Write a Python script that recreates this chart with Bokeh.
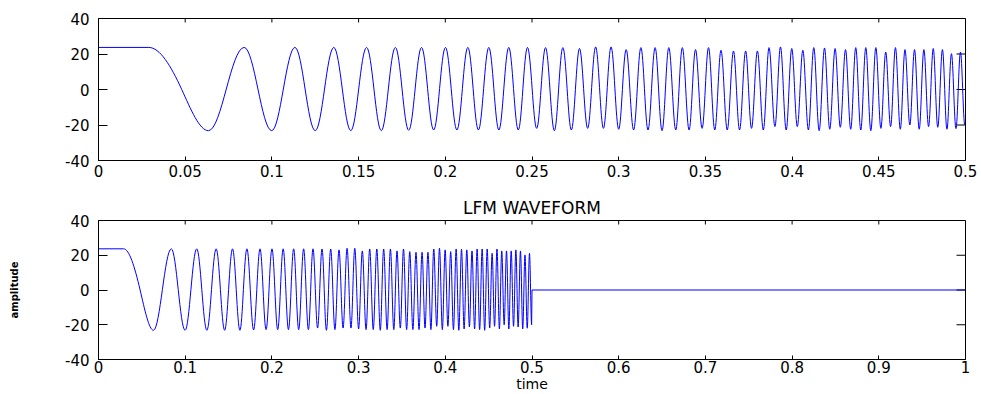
import math
from bokeh.plotting import figure
from bokeh.layouts import column
from bokeh.models import FixedTicker, ColumnDataSource, Range1d
from bokeh.embed import file_html
from bokeh.resources import INLINE

# ---------------- data ----------------
# Times (s) of the successive troughs / peaks of the LFM chirp
EXTREMA_T = [
    0.0634, 0.0840, 0.0999, 0.1133, 0.1250, 0.1357, 0.1455, 0.1546, 0.1631, 0.1712,
    0.1789, 0.1863, 0.1933, 0.2001, 0.2067, 0.2130, 0.2191, 0.2251, 0.2309, 0.2366,
    0.2421, 0.2474, 0.2527, 0.2578, 0.2629, 0.2678, 0.2727, 0.2774, 0.2821, 0.2867,
    0.2912, 0.2956, 0.3000, 0.3043, 0.3086, 0.3128, 0.3169, 0.3210, 0.3250, 0.3289,
    0.3329, 0.3367, 0.3406, 0.3443, 0.3481, 0.3518, 0.3554, 0.3590, 0.3626, 0.3662,
    0.3697, 0.3732, 0.3766, 0.3800, 0.3834, 0.3867, 0.3901, 0.3933, 0.3966, 0.3998,
    0.4030, 0.4062, 0.4094, 0.4125, 0.4156, 0.4187, 0.4217, 0.4248, 0.4278, 0.4308,
    0.4338, 0.4367, 0.4396, 0.4425, 0.4454, 0.4483, 0.4512, 0.4540, 0.4568, 0.4596,
    0.4624, 0.4651, 0.4679, 0.4706, 0.4733, 0.4760, 0.4787, 0.4814, 0.4840, 0.4867,
    0.4893, 0.4919, 0.4945, 0.4971, 0.4996,
]
# Amplitudes of those troughs / peaks
EXTREMA_V = [
    -23.2, 23.7, -23.2, 23.7, -23.2, 23.7, -23.2, 23.7, -23.2, 23.7,
    -23.0, 23.7, -22.8, 23.7, -22.8, 23.7, -22.8, 23.7, -22.8, 23.7,
    -22.8, 23.7, -21.9, 23.6, -23.2, 23.6, -22.8, 23.1, -21.9, 24.0,
    -21.9, 24.0, -22.4, 22.5, -22.8, 23.6, -22.8, 23.6, -23.2, 23.6,
    -22.8, 23.6, -22.8, 22.5, -21.9, 23.6, -22.8, 22.1, -22.8, 21.7,
    -22.8, 21.7, -21.9, 21.7, -22.8, 23.6, -20.9, 24.0, -22.8, 23.1,
    -20.9, 22.1, -22.8, 23.6, -23.2, 23.4, -22.4, 23.1, -21.3, 22.5,
    -22.4, 23.6, -22.8, 23.6, -23.2, 23.6, -21.9, 21.1, -20.9, 23.6,
    -22.4, 22.5, -20.0, 22.5, -22.4, 22.5, -20.9, 23.1, -21.3, 22.5,
    -22.4, 20.2, -22.0, 21.1, -20.0,
]
PLATEAU_LEVEL = 23.7     # initial flat level
DESCENT_START = 0.029    # end of initial plateau
FIRST_ZERO = 0.048       # first zero crossing
PULSE_END = 0.5
TIME_END = 1.0

TOP_XTICKS = [0, 0.05, 0.1, 0.15, 0.2, 0.25, 0.3, 0.35, 0.4, 0.45, 0.5]
TOP_XLABELS = ["0", "0.05", "0.1", "0.15", "0.2", "0.25", "0.3", "0.35", "0.4", "0.45", "0.5"]
BOT_XTICKS = [0, 0.1, 0.2, 0.3, 0.4, 0.5, 0.6, 0.7, 0.8, 0.9, 1.0]
BOT_XLABELS = ["0", "0.1", "0.2", "0.3", "0.4", "0.5", "0.6", "0.7", "0.8", "0.9", "1"]
YMIN, YMAX = -40, 40
YTICKS = [-40, -20, 0, 20, 40]
YLABELS = ["-40", "-20", "0", "20", "40"]
TITLE = "LFM WAVEFORM"
XLABEL = "time"
YLABEL = "amplitude"

# ---------------- styling ----------------
FONT = "DejaVu Sans"
TICK_FS = "15px"
WAVE_COLOR = "#0000ff"
HALF_WAVE_HANDLE = 0.3634
XTICK_LEN = 4
YTICK_LEN = 9


def wave_segments():
    kt = [DESCENT_START, FIRST_ZERO] + EXTREMA_T
    kv = [PLATEAU_LEVEL, 0.0] + EXTREMA_V
    half = EXTREMA_T[0] - DESCENT_START
    amp = (PLATEAU_LEVEL - EXTREMA_V[0]) / 2.0
    km = [0.0, -amp * math.pi / half] + [0.0] * len(EXTREMA_T)
    d = dict(x0=[], y0=[], x1=[], y1=[], cx0=[], cy0=[], cx1=[], cy1=[])
    for i in range(len(kt) - 1):
        t0, t1, v0, v1, m0, m1 = kt[i], kt[i + 1], kv[i], kv[i + 1], km[i], km[i + 1]
        h = t1 - t0
        f = HALF_WAVE_HANDLE if (m0 == 0 and m1 == 0) else 1.0 / 3.0
        d["x0"].append(t0); d["y0"].append(v0)
        d["x1"].append(t1); d["y1"].append(v1)
        d["cx0"].append(t0 + f * h); d["cy0"].append(v0 + m0 * f * h)
        d["cx1"].append(t1 - f * h); d["cy1"].append(v1 - m1 * f * h)
    return d


def style_axis(ax, ticks, labels, tick_len, standoff):
    ax.ticker = FixedTicker(ticks=ticks)
    ax.major_label_overrides = {t: l for t, l in zip(ticks, labels)}
    ax.major_tick_in = tick_len
    ax.major_tick_out = 0
    ax.minor_tick_line_color = None
    ax.major_tick_line_color = "black"
    ax.axis_line_color = "black"
    ax.major_label_text_font = FONT
    ax.major_label_text_font_size = TICK_FS
    ax.major_label_text_color = "black"
    ax.major_label_standoff = standoff


def make_fig(xmax, xticks, xlabels, height, bt, bb, xstandoff, title=None):
    p = figure(width=981, height=height, x_range=Range1d(0, xmax), y_range=Range1d(YMIN, YMAX),
               output_backend="svg", toolbar_location=None, title=title,
               min_border_left=98, min_border_right=16, min_border_top=bt, min_border_bottom=bb)
    p.grid.visible = False
    p.outline_line_color = "black"
    p.outline_line_alpha = 1.0
    p.background_fill_color = "white"
    p.border_fill_color = "white"
    style_axis(p.xaxis[0], xticks, xlabels, XTICK_LEN, xstandoff)
    style_axis(p.yaxis[0], YTICKS, YLABELS, YTICK_LEN, 9)
    # inward ticks on the top and right edges of the box
    p.ray(x=xticks, y=[YMAX] * len(xticks), length=XTICK_LEN, length_units="screen",
          angle=-math.pi / 2, line_color="black", line_width=1)
    p.ray(x=[xmax] * len(YTICKS), y=YTICKS, length=YTICK_LEN, length_units="screen",
          angle=math.pi, line_color="black", line_width=1)

    seg = ColumnDataSource(wave_segments())
    p.bezier(x0="x0", y0="y0", x1="x1", y1="y1", cx0="cx0", cy0="cy0", cx1="cx1", cy1="cy1",
             source=seg, line_color=WAVE_COLOR, line_width=1)
    p.line([0, DESCENT_START], [PLATEAU_LEVEL, PLATEAU_LEVEL], line_color=WAVE_COLOR, line_width=1)
    return p


top = make_fig(PULSE_END, TOP_XTICKS, TOP_XLABELS, 190, 18, 30, 4)

bot = make_fig(TIME_END, BOT_XTICKS, BOT_XLABELS, 204, 30, 32, 1, title=TITLE)
bot.line([EXTREMA_T[-1], PULSE_END, TIME_END], [EXTREMA_V[-1], 0, 0], line_color=WAVE_COLOR, line_width=1)
bot.title.align = "center"
bot.title.text_font = FONT
bot.title.text_font_size = "17px"
bot.title.text_font_style = "normal"
bot.title.text_color = "black"
bot.title.standoff = 5
xa = bot.xaxis[0]
xa.axis_label = XLABEL
xa.axis_label_text_font = FONT
xa.axis_label_text_font_size = "14px"
xa.axis_label_text_font_style = "normal"
xa.axis_label_text_color = "black"
xa.axis_label_standoff = 0
ya = bot.yaxis[0]
ya.axis_label = YLABEL
ya.axis_label_text_font = FONT
ya.axis_label_text_font_size = "10px"
ya.axis_label_text_font_style = "bold"
ya.axis_label_text_color = "black"
ya.axis_label_standoff = 42

layout = column(top, bot, spacing=0)
open("out.html", "w").write(file_html(layout, INLINE))
